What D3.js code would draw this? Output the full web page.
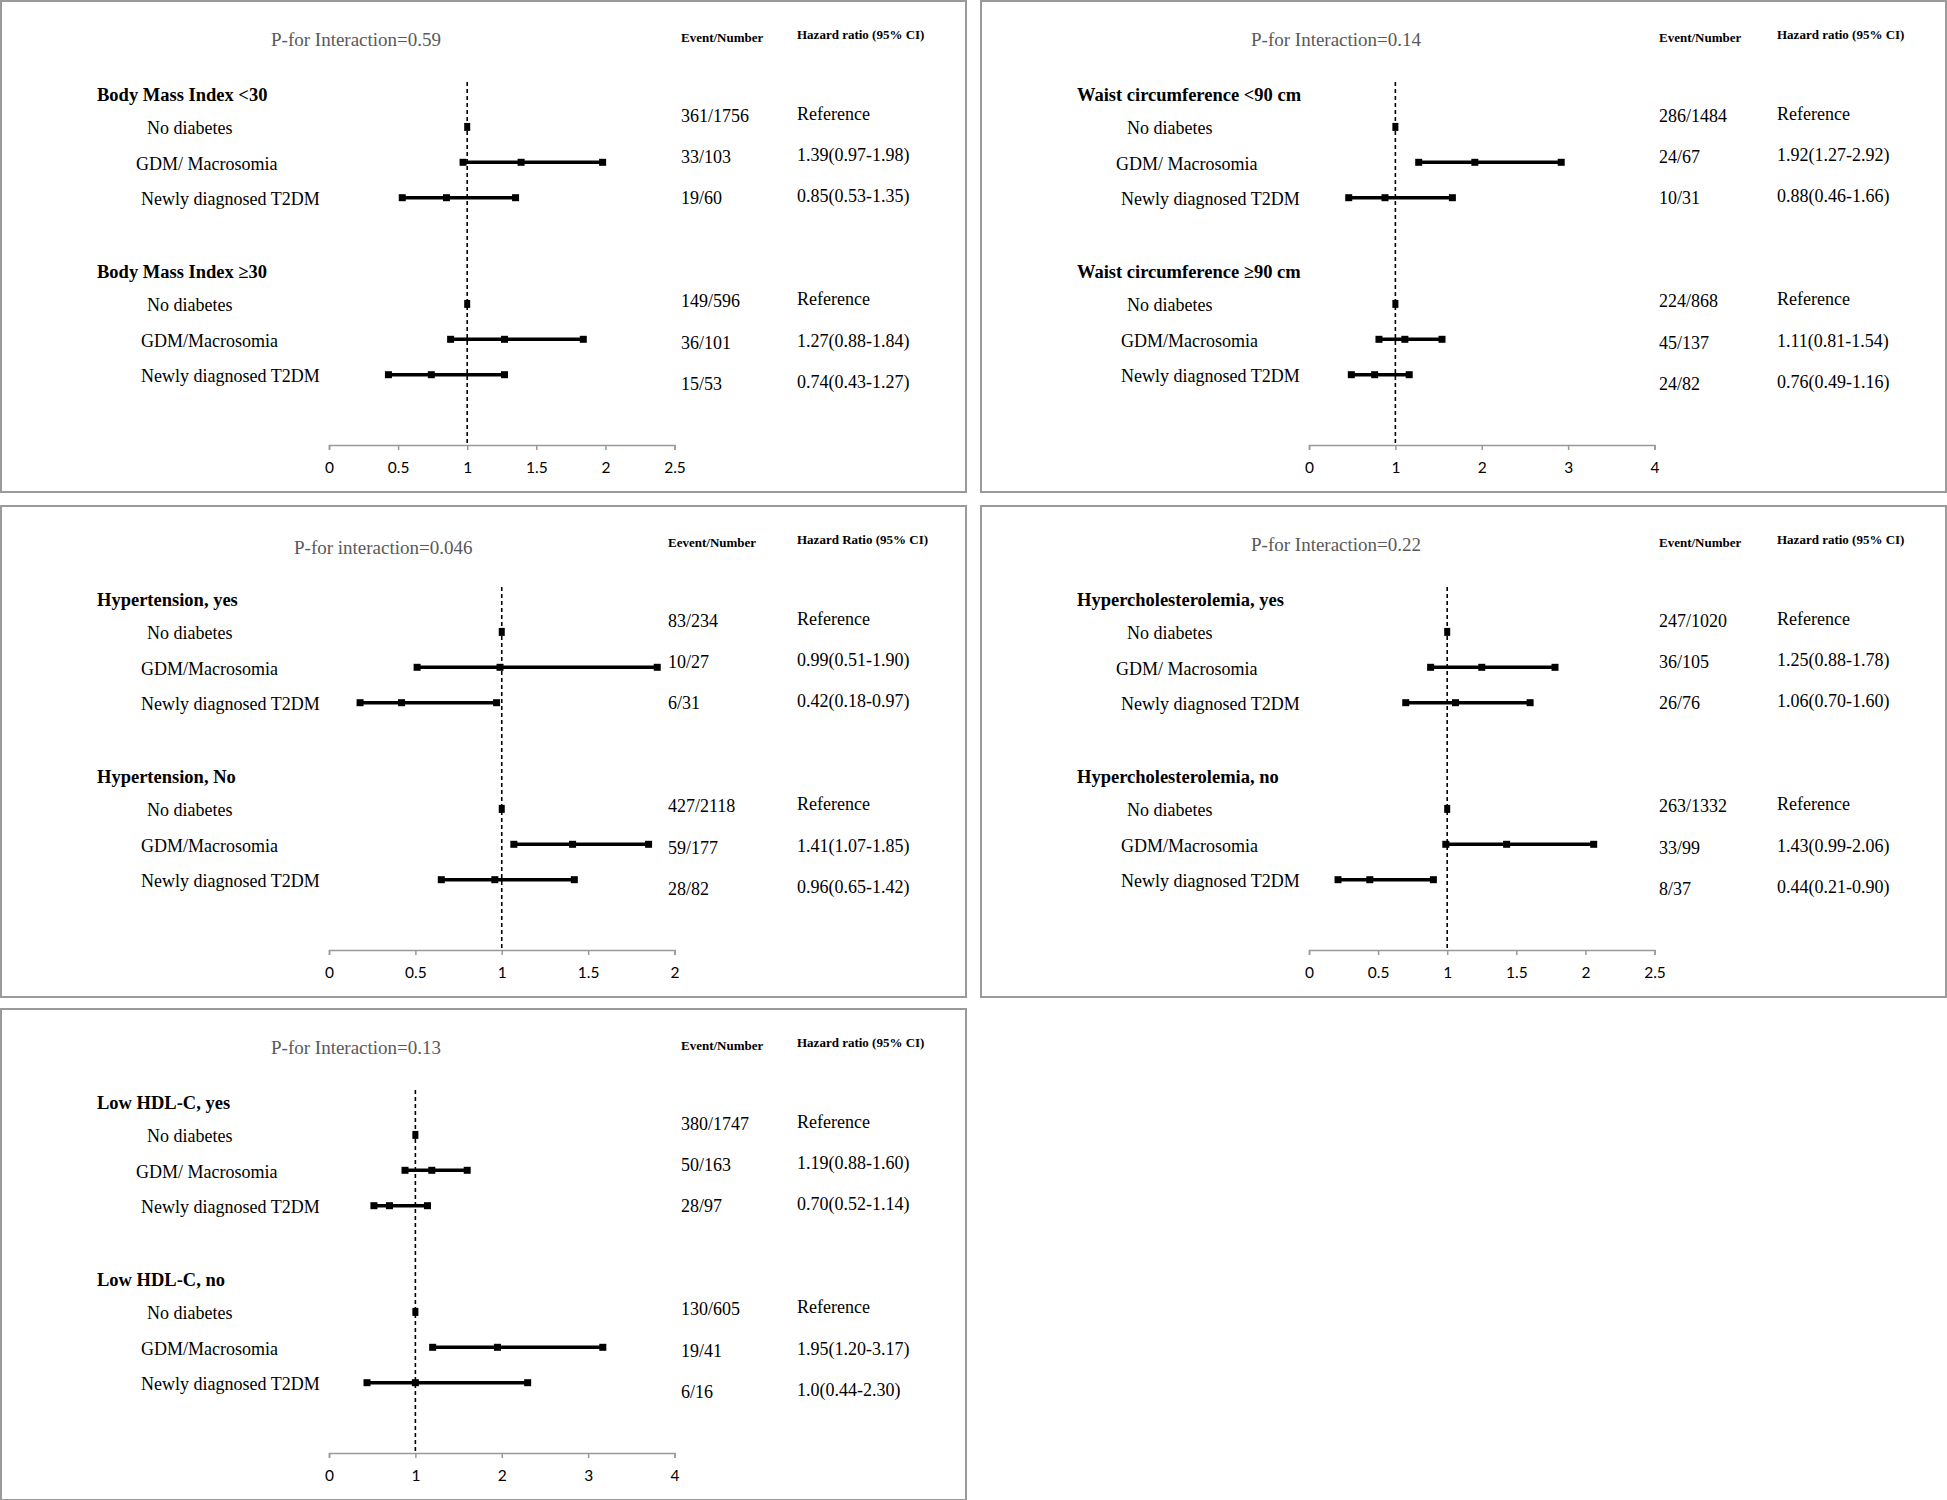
<!doctype html>
<html lang="en">
<head>
  <meta charset="utf-8">
  <title>Hazard ratios by subgroup</title>
  <script src="https://d3js.org/d3.v7.min.js"></script>
  <style>
    body { margin: 0; background: #fff; }
    svg text { font-family: "Liberation Serif", "Times New Roman", serif; }
    .tick text { font-family: Lato, "Open Sans", sans-serif; }
  </style>
</head>
<body>
<svg id="chart" width="1947" height="1500"></svg>
<script>
// ---- data ----
const panelTitles = ["P-for Interaction=0.59", "P-for Interaction=0.14", "P-for interaction=0.046",
                     "P-for Interaction=0.22", "P-for Interaction=0.13"];
const eventHeaders = ["Event/Number", "Event/Number", "Eevent/Number", "Event/Number", "Event/Number"];
const hrHeaders = ["Hazard ratio (95% CI)", "Hazard ratio (95% CI)", "Hazard Ratio (95% CI)",
                   "Hazard ratio (95% CI)", "Hazard ratio (95% CI)"];
const groupNames = [
  ["Body Mass Index <30", "Body Mass Index \u226530"],
  ["Waist circumference <90 cm", "Waist circumference \u226590 cm"],
  ["Hypertension, yes", "Hypertension, No"],
  ["Hypercholesterolemia, yes", "Hypercholesterolemia, no"],
  ["Low HDL-C, yes", "Low HDL-C, no"]
];
const rowLabels = [
  ["No diabetes", "GDM/ Macrosomia", "Newly diagnosed T2DM", "No diabetes", "GDM/Macrosomia", "Newly diagnosed T2DM"],
  ["No diabetes", "GDM/ Macrosomia", "Newly diagnosed T2DM", "No diabetes", "GDM/Macrosomia", "Newly diagnosed T2DM"],
  ["No diabetes", "GDM/Macrosomia", "Newly diagnosed T2DM", "No diabetes", "GDM/Macrosomia", "Newly diagnosed T2DM"],
  ["No diabetes", "GDM/ Macrosomia", "Newly diagnosed T2DM", "No diabetes", "GDM/Macrosomia", "Newly diagnosed T2DM"],
  ["No diabetes", "GDM/ Macrosomia", "Newly diagnosed T2DM", "No diabetes", "GDM/Macrosomia", "Newly diagnosed T2DM"]
];
const events = [
  ["361/1756", "33/103", "19/60", "149/596", "36/101", "15/53"],
  ["286/1484", "24/67", "10/31", "224/868", "45/137", "24/82"],
  ["83/234", "10/27", "6/31", "427/2118", "59/177", "28/82"],
  ["247/1020", "36/105", "26/76", "263/1332", "33/99", "8/37"],
  ["380/1747", "50/163", "28/97", "130/605", "19/41", "6/16"]
];
const hrLabels = [
  ["Reference", "1.39(0.97-1.98)", "0.85(0.53-1.35)", "Reference", "1.27(0.88-1.84)", "0.74(0.43-1.27)"],
  ["Reference", "1.92(1.27-2.92)", "0.88(0.46-1.66)", "Reference", "1.11(0.81-1.54)", "0.76(0.49-1.16)"],
  ["Reference", "0.99(0.51-1.90)", "0.42(0.18-0.97)", "Reference", "1.41(1.07-1.85)", "0.96(0.65-1.42)"],
  ["Reference", "1.25(0.88-1.78)", "1.06(0.70-1.60)", "Reference", "1.43(0.99-2.06)", "0.44(0.21-0.90)"],
  ["Reference", "1.19(0.88-1.60)", "0.70(0.52-1.14)", "Reference", "1.95(1.20-3.17)", "1.0(0.44-2.30)"]
];
const hrEst = [
  [1, 1.39, 0.85, 1, 1.27, 0.74],
  [1, 1.92, 0.88, 1, 1.11, 0.76],
  [1, 0.99, 0.42, 1, 1.41, 0.96],
  [1, 1.25, 1.06, 1, 1.43, 0.44],
  [1, 1.19, 0.70, 1, 1.95, 1.0]
];
const hrLow = [
  [null, 0.97, 0.53, null, 0.88, 0.43],
  [null, 1.27, 0.46, null, 0.81, 0.49],
  [null, 0.51, 0.18, null, 1.07, 0.65],
  [null, 0.88, 0.70, null, 0.99, 0.21],
  [null, 0.88, 0.52, null, 1.20, 0.44]
];
const hrHigh = [
  [null, 1.98, 1.35, null, 1.84, 1.27],
  [null, 2.92, 1.66, null, 1.54, 1.16],
  [null, 1.90, 0.97, null, 1.85, 1.42],
  [null, 1.78, 1.60, null, 2.06, 0.90],
  [null, 1.60, 1.14, null, 3.17, 2.30]
];
const axisTicks = [
  [0, 0.5, 1, 1.5, 2, 2.5],
  [0, 1, 2, 3, 4],
  [0, 0.5, 1, 1.5, 2],
  [0, 0.5, 1, 1.5, 2, 2.5],
  [0, 1, 2, 3, 4]
];

// ---- layout ----
const panelOrigin = [[0, 0], [980, 0], [0, 505], [980, 505], [0, 1008]];
const titleX = [271, 271, 294, 271, 271];
const titleY = [39, 39, 42.5, 39, 39];
const eventX = [681, 679, 668, 679, 681];
const hrX = 797;
const rowSlots = [1, 2, 3, 6, 7, 8];
const groupSlots = [0, 5];
const textShift = [-10, -4.5, 1, -2, 4, 9.5]; // the text columns drift a little from the rows
const labelX = {"No diabetes": 147, "GDM/ Macrosomia": 136, "GDM/Macrosomia": 141, "Newly diagnosed T2DM": 141};
const axisY = 445;

const svg = d3.select("#chart");
svg.append("rect").attr("width", 1947).attr("height", 1500).attr("fill", "#fff");

const y = d3.scaleLinear().domain([0, 8]).range([91.5, 374.7]);

panelTitles.forEach((title, p) => {
  const [ox, oy] = panelOrigin[p];
  const g = svg.append("g").attr("transform", `translate(${ox},${oy})`);
  const ticks = axisTicks[p];
  const x = d3.scaleLinear().domain([0, d3.max(ticks)]).range([329, 674.5]);

  g.append("rect")
    .attr("x", 1).attr("y", 1).attr("width", 965).attr("height", 491)
    .attr("fill", "none").attr("stroke", "#9a9a9a").attr("stroke-width", 2);

  g.append("text").attr("x", titleX[p]).attr("y", titleY[p])
    .attr("dominant-baseline", "central").attr("font-size", 19).attr("fill", "#595959")
    .text(title);
  g.append("text").attr("x", eventX[p]).attr("y", 37)
    .attr("dominant-baseline", "central").attr("font-size", 13).attr("font-weight", "bold")
    .text(eventHeaders[p]);
  g.append("text").attr("x", hrX).attr("y", 34.5)
    .attr("dominant-baseline", "central").attr("font-size", 13).attr("font-weight", "bold")
    .text(hrHeaders[p]);

  groupNames[p].forEach((name, k) => {
    g.append("text").attr("x", 97).attr("y", y(groupSlots[k]) + 3.5)
      .attr("dominant-baseline", "central").attr("font-size", 18.5).attr("font-weight", "bold")
      .text(name);
  });

  rowLabels[p].forEach((lab, i) => {
    const yy = y(rowSlots[i]);
    g.append("text").attr("x", labelX[lab]).attr("y", yy + 1.5)
      .attr("dominant-baseline", "central").attr("font-size", 18).text(lab);
    g.append("text").attr("x", eventX[p]).attr("y", yy + textShift[i] - 0.5)
      .attr("dominant-baseline", "central").attr("font-size", 18).text(events[p][i]);
    g.append("text").attr("x", hrX).attr("y", yy + textShift[i] - 2.5)
      .attr("dominant-baseline", "central").attr("font-size", 18).text(hrLabels[p][i]);
  });

  // axis
  const ax = g.append("g").attr("transform", `translate(0,${axisY})`)
    .call(d3.axisBottom(x).tickValues(ticks).tickSize(5).tickPadding(12).tickFormat(d3.format("~g")));
  ax.select(".domain").attr("stroke", "#999").attr("stroke-width", 1.5);
  ax.selectAll(".tick line").attr("stroke", "#999").attr("stroke-width", 1.5);
  ax.selectAll(".tick text").attr("font-size", 15.5).attr("fill", "#000");

  // reference line at HR = 1
  g.append("line").attr("x1", x(1)).attr("x2", x(1)).attr("y1", 82).attr("y2", axisY)
    .attr("stroke", "#000").attr("stroke-width", 1.6).attr("stroke-dasharray", "4,3");

  // estimates and intervals
  hrEst[p].forEach((est, i) => {
    const yy = y(rowSlots[i]);
    const lo = hrLow[p][i], hi = hrHigh[p][i];
    if (lo == null) {
      g.append("rect").attr("x", x(est) - 3).attr("y", yy - 4)
        .attr("width", 6).attr("height", 8).attr("fill", "#000");
      return;
    }
    g.append("line").attr("x1", x(lo)).attr("x2", x(hi)).attr("y1", yy).attr("y2", yy)
      .attr("stroke", "#000").attr("stroke-width", 3.5);
    [lo, est, hi].forEach(v => {
      g.append("rect").attr("x", x(v) - 3.5).attr("y", yy - 3.5)
        .attr("width", 7).attr("height", 7).attr("fill", "#000");
    });
  });
});
</script>
</body>
</html>
